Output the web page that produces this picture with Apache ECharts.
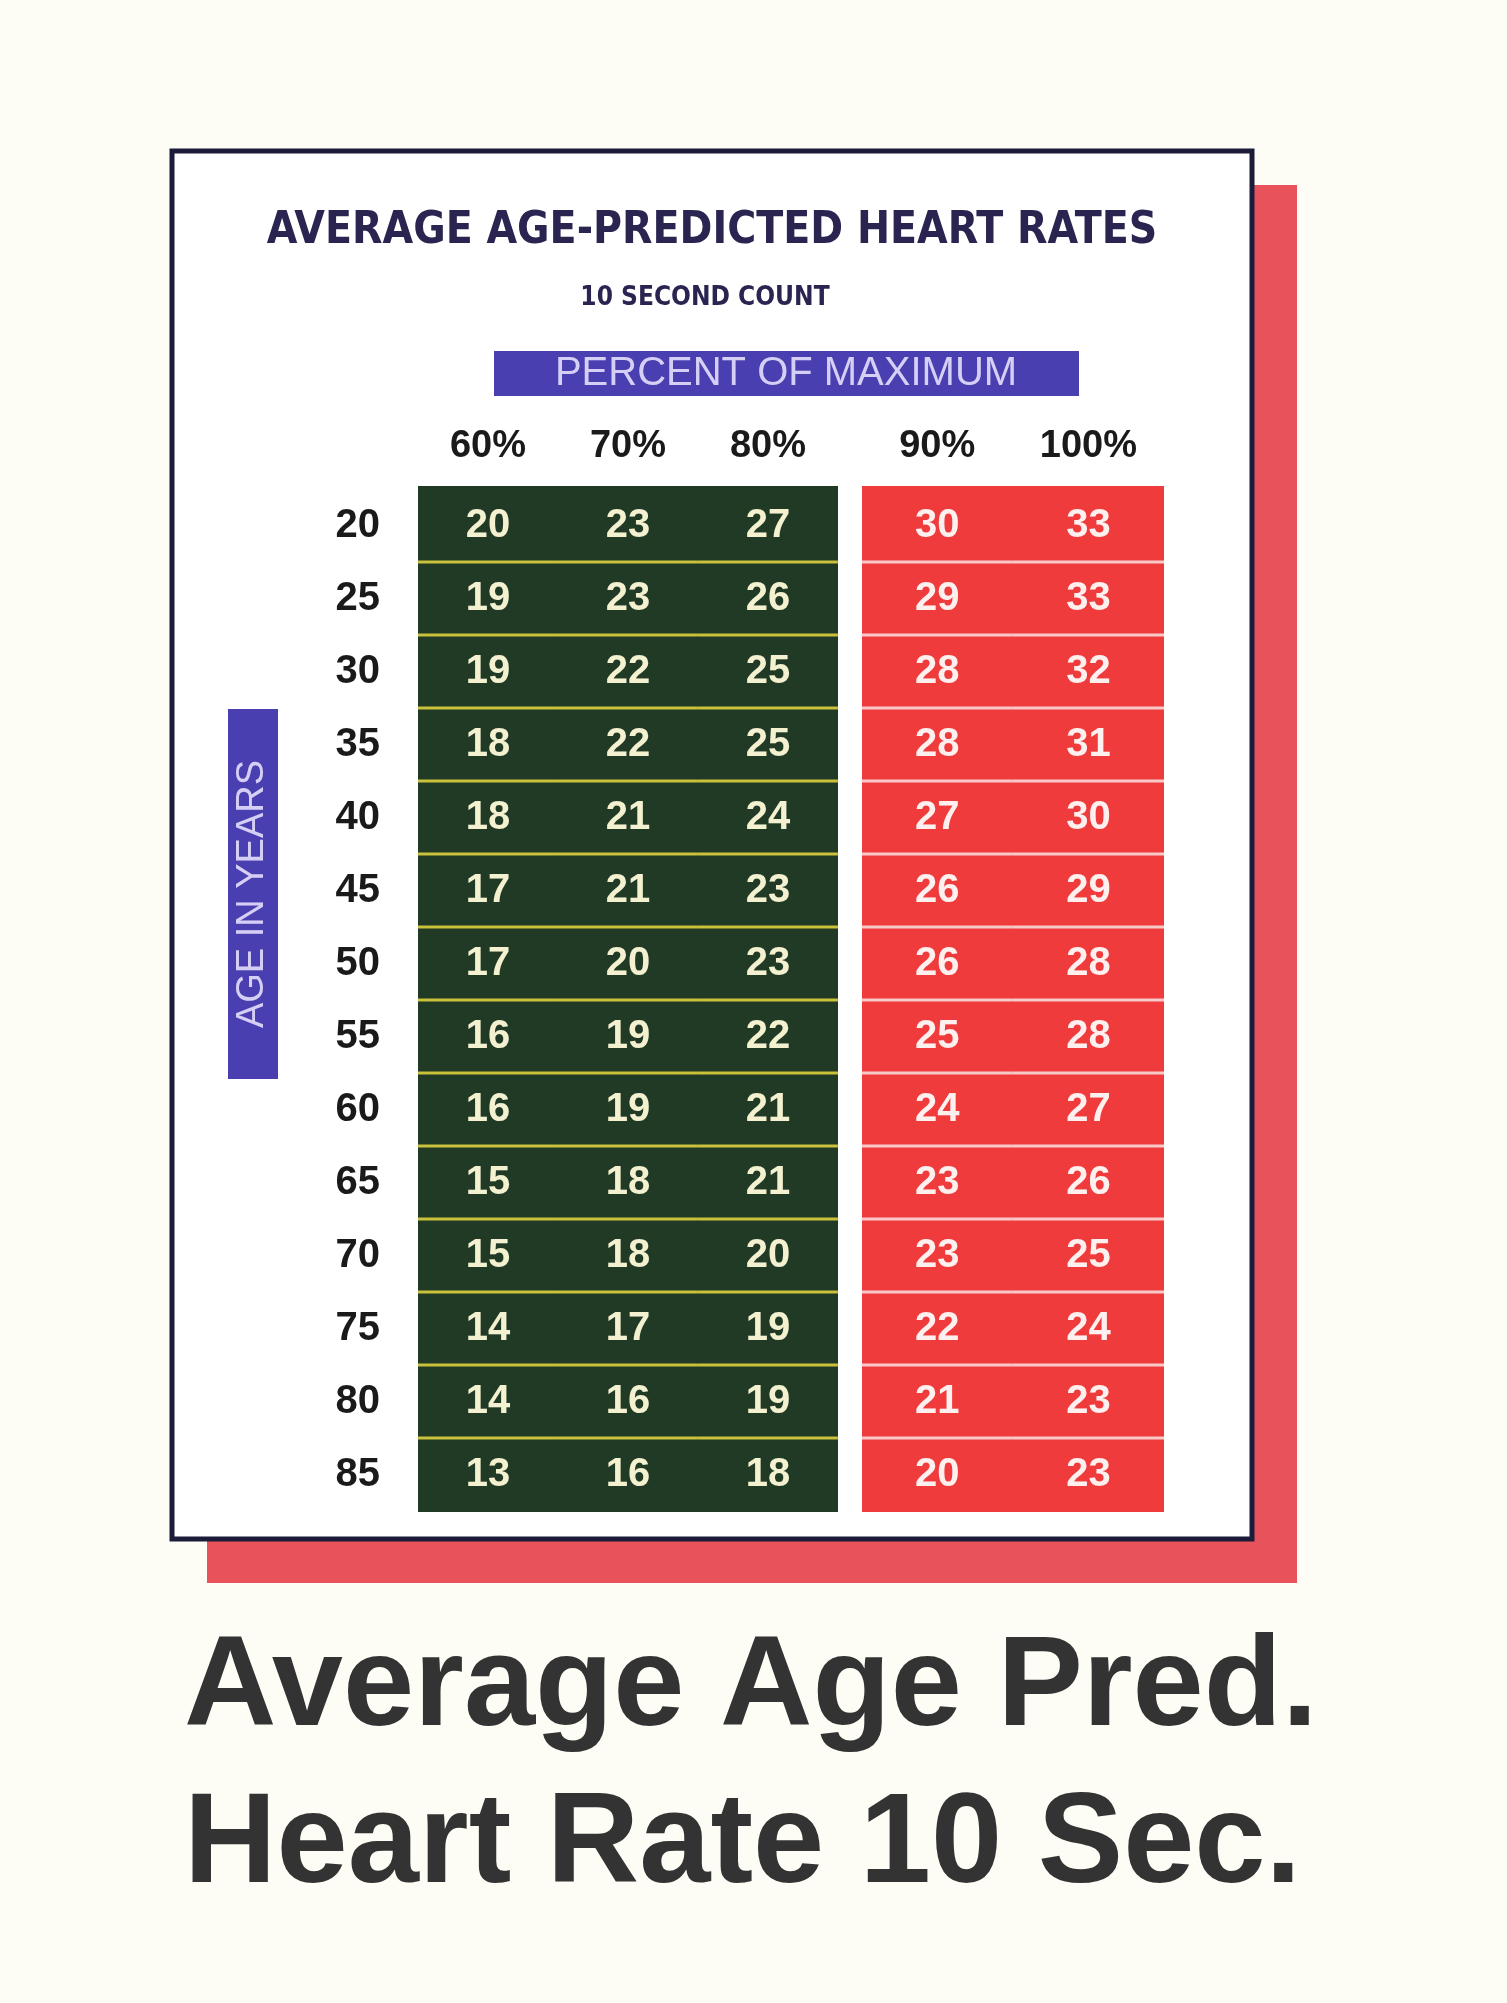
<!DOCTYPE html><html><head><meta charset="utf-8">
<script src="https://cdn.jsdelivr.net/npm/echarts@6/dist/echarts.min.js"></script>
<style>html,body{margin:0;padding:0;background:#fdfdf5}#c{width:1507px;height:2003px}</style></head><body><div id="c"></div>
<script>
const ages=['20','25','30','35','40','45','50','55','60','65','70','75','80','85'];
const percents=['60%','70%','80%','90%','100%'];
const p60=[20,19,19,18,18,17,17,16,16,15,15,14,14,13];
const p70=[23,23,22,22,21,21,20,19,19,18,18,17,16,16];
const p80=[27,26,25,25,24,23,23,22,21,21,20,19,19,18];
const p90=[30,29,28,28,27,26,26,25,24,23,23,22,21,20];
const p100=[33,33,32,31,30,29,28,28,27,26,25,24,23,23];
const cols=[p60,p70,p80,p90,p100];
const colStart=[0,1,2,3.17,4.25], colEnd=[1,2,3,4.25,5.33];
const data=[];
cols.forEach((c,ci)=>c.forEach((v,ri)=>data.push([ci,ri,v])));
const chart=echarts.init(document.getElementById('c'));
const F='"Liberation Sans", Arial, sans-serif';
chart.setOption({
 backgroundColor:'#fdfdf5',animation:false,
 grid:{left:418,top:489,width:746,height:1022},
 xAxis:{type:'value',min:0,max:5.33,show:false},
 yAxis:{type:'category',data:ages,inverse:true,axisLine:{show:false},axisTick:{show:false},splitLine:{show:false},
  axisLabel:{margin:38,fontFamily:F,fontWeight:'bold',fontSize:40,color:'#1a1a1a'}},
 graphic:[
  {id:'sh',type:'rect',z:-10,shape:{x:207,y:185,width:1090,height:1398},style:{fill:'#e8525a'}},
  {id:'fr',type:'rect',z:-9,shape:{x:172,y:151,width:1080,height:1388},style:{fill:'#ffffff',stroke:'#1c1c3a',lineWidth:5}},
  {id:'gb',type:'rect',z:-8,shape:{x:418,y:486,width:420,height:1026},style:{fill:'#213a26'}},
  {id:'rb',type:'rect',z:-8,shape:{x:862,y:486,width:302,height:1026},style:{fill:'#ef3b3b'}},
  {id:'t1',type:'text',style:{x:712,y:232,text:'AVERAGE AGE-PREDICTED HEART RATES',align:'center',verticalAlign:'middle',font:'bold 44px "DejaVu Sans Condensed", "Liberation Sans", sans-serif',fill:'#2a2550'}},
  {id:'t2',type:'text',style:{x:705,y:298,text:'10 SECOND COUNT',align:'center',verticalAlign:'middle',font:'bold 26px "DejaVu Sans Condensed", sans-serif',fill:'#2a2550'}},
  {id:'pb',type:'rect',shape:{x:494,y:351,width:585,height:45},style:{fill:'#4a3fb0'}},
  {id:'pt',type:'text',style:{x:786,y:374,text:'PERCENT OF MAXIMUM',align:'center',verticalAlign:'middle',font:'40px "Liberation Sans", sans-serif',fill:'#d6cff5'}},
  {id:'ab',type:'rect',shape:{x:228,y:709,width:50,height:370},style:{fill:'#4a3fb0'}},
  {id:'at',type:'text',rotation:Math.PI/2,x:253,y:894,style:{x:0,y:0,text:'AGE IN YEARS',align:'center',verticalAlign:'middle',font:'38px "Liberation Sans", sans-serif',fill:'#d6cff5'}},
  {id:'b1',type:'text',style:{x:184,y:1690,text:'Average Age Pred.',verticalAlign:'middle',font:'bold 128px "Liberation Sans", Arial, sans-serif',fill:'#333333'}},
  {id:'b2',type:'text',style:{x:184,y:1847,text:'Heart Rate 10 Sec.',verticalAlign:'middle',font:'bold 128px "Liberation Sans", Arial, sans-serif',fill:'#333333'}}
 ],
 series:[{type:'custom',data:data,encode:{x:0,y:1},
  renderItem:function(params,api){
   const ci=api.value(0),ri=api.value(1),v=api.value(2);
   const p0=api.coord([colStart[ci],ri]),p1=api.coord([colEnd[ci],ri]);
   const h=api.size([0,1])[1];
   const top=p0[1]-h/2;
   const green=ci<3;
   const line=green?'#c9c23a':'#f7c9c9';
   const ch=[{type:'text',style:{x:(p0[0]+p1[0])/2,y:p0[1],text:String(v),align:'center',verticalAlign:'middle',font:'bold 40px "Liberation Sans", sans-serif',fill:green?'#f4f1d0':'#fff0f0'}}];
   if(ri<ages.length-1) ch.push({type:'line',shape:{x1:p0[0],y1:top+h,x2:p1[0],y2:top+h},style:{stroke:line,lineWidth:3}});
   return {type:'group',children:ch};
  }}]
});
const hdr=percents.map((p,i)=>{
 const x=chart.convertToPixel({gridIndex:0},[(colStart[i]+colEnd[i])/2,0])[0];
 return {id:'h'+i,type:'text',style:{x:x,y:447,text:p,align:'center',verticalAlign:'middle',font:'bold 38px "Liberation Sans", sans-serif',fill:'#1a1a1a'}};
});
chart.setOption({graphic:hdr});
</script></body></html>
